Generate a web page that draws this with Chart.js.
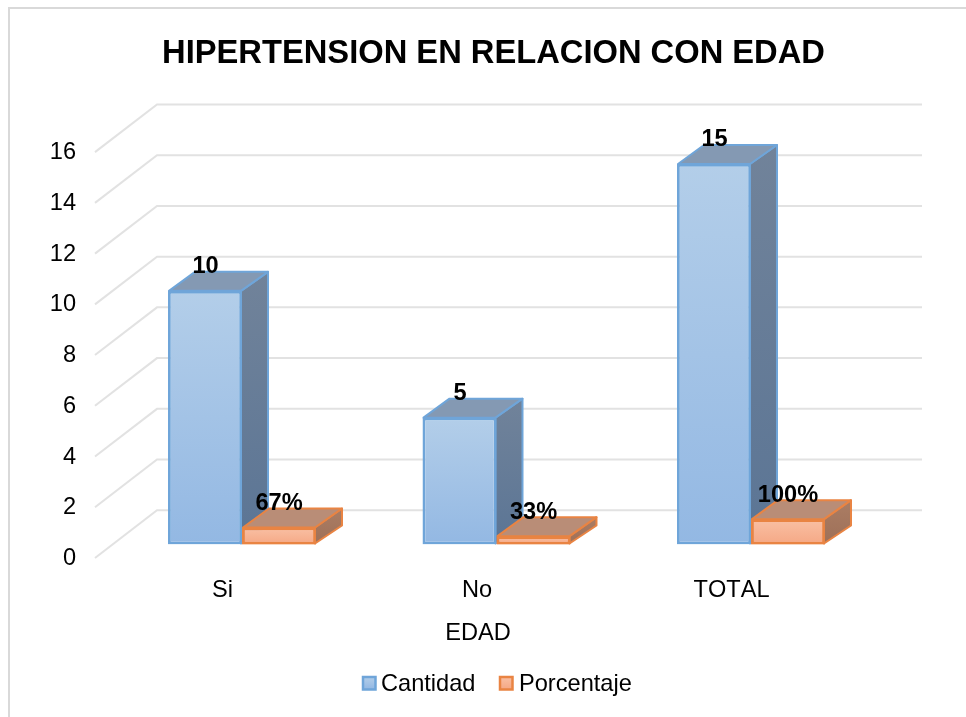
<!DOCTYPE html>
<html lang="es">
<head>
<meta charset="utf-8">
<title>Hipertension en relacion con edad</title>
<style>
html,body{margin:0;padding:0;background:#fff;overflow:hidden}
#wrap{position:absolute;left:0;top:0;width:966px;height:717px}
canvas{display:block;filter:blur(0.4px)}
</style>
<script src="https://cdn.jsdelivr.net/npm/chart.js@4"></script>
</head>
<body>
<div id="wrap"><canvas id="c" width="966" height="717"></canvas></div>
<script>
const chartTitle = 'HIPERTENSION EN RELACION CON EDAD';
const xAxisTitle = 'EDAD';
const categories = ['Si', 'No', 'TOTAL'];
const seriesNames = ['Cantidad', 'Porcentaje'];
const cantidad = [10, 5, 15];
const porcentaje = [0.67, 0.33, 1];
const axisMin = 0;
const axisMax = 16;
const axisStep = 2;

const FONT = '"Liberation Sans", Arial, sans-serif';
const TEXT = '#000000';
const GRID = '#e2e2e2';
const FRAME = '#d9d9d9';
// 3D projection offsets, in pixels
const DEPTH_X = 26, DEPTH_Y = -19;         // depth of a bar
const FLOOR_DOWN = 13.5;                   // axis front edge below the bar plane
const WALL_UP = 34.2;                      // back wall above the bar plane
const GRID_FRONT_X = 95, GRID_BACK_X = 157, GRID_RIGHT_X = 922;
const EDGE = 2.8;

const palette = [
  {top:'#b3cee9', bottom:'#93b8e3', stroke:'#6fa5d9', lid:'#8499b3', sideTop:'#71839a', sideBottom:'#5b7595'},
  {top:'#f9c0a4', bottom:'#f5a885', stroke:'#e98443', lid:'#b98d77', sideTop:'#ab7d64', sideBottom:'#9e7058'}
];

function frontGradient(ctx, p, top, bottom) {
  const g = ctx.createLinearGradient(0, top, 0, bottom);
  g.addColorStop(0, p.top);
  g.addColorStop(1, p.bottom);
  return g;
}

function poly(ctx, pts, fill, stroke) {
  ctx.beginPath();
  pts.forEach((q, i) => i ? ctx.lineTo(q[0], q[1]) : ctx.moveTo(q[0], q[1]));
  ctx.closePath();
  ctx.fillStyle = fill;
  ctx.fill();
  ctx.lineWidth = 2;
  ctx.lineJoin = 'round';
  ctx.strokeStyle = stroke;
  ctx.stroke();
}

function drawFaces(chart, dsIndex) {
  const ctx = chart.ctx, p = palette[dsIndex];
  chart.getDatasetMeta(dsIndex).data.forEach(bar => {
    const half = bar.width / 2, l = bar.x - half, r = bar.x + half, t = bar.y, b = bar.base;
    const side = ctx.createLinearGradient(0, t + DEPTH_Y, 0, b);
    side.addColorStop(0, p.sideTop);
    side.addColorStop(1, p.sideBottom);
    poly(ctx, [[r - 1, b - 1], [r + DEPTH_X, b + DEPTH_Y], [r + DEPTH_X, t + DEPTH_Y], [r - 1, t]], side, p.stroke);
    poly(ctx, [[l + 1, t], [l + DEPTH_X + 1, t + DEPTH_Y], [r + DEPTH_X, t + DEPTH_Y], [r - 1, t]], p.lid, p.stroke);
  });
}

const scene3d = {
  id: 'scene3d',
  beforeDraw(chart) {
    const ctx = chart.ctx;
    ctx.fontKerning = 'none';
    ctx.save();
    ctx.fillStyle = '#fff';
    ctx.fillRect(0, 0, chart.width, chart.height);
    ctx.strokeStyle = FRAME;
    ctx.lineWidth = 2;
    ctx.beginPath();
    ctx.moveTo(9, chart.height);
    ctx.lineTo(9, 8);
    ctx.lineTo(chart.width, 8);
    ctx.stroke();
    ctx.restore();
  },
  beforeDatasetsDraw(chart) {
    const ctx = chart.ctx, y = chart.scales.y;
    ctx.save();
    ctx.strokeStyle = GRID;
    ctx.lineWidth = 2;
    y.ticks.forEach(t => {
      const py = y.getPixelForValue(t.value);
      ctx.beginPath();
      ctx.moveTo(GRID_FRONT_X, py + FLOOR_DOWN);
      ctx.lineTo(GRID_BACK_X, py - WALL_UP);
      ctx.lineTo(GRID_RIGHT_X, py - WALL_UP);
      ctx.stroke();
    });
    drawFaces(chart, 0);
    drawFaces(chart, 1);
    ctx.restore();
  },
  afterDatasetsDraw(chart) {
    const ctx = chart.ctx;
    ctx.save();
    chart.getDatasetMeta(1).data.forEach(bar => bar.draw(ctx));
    // value labels
    ctx.fillStyle = TEXT;
    ctx.font = 'bold 23.6px ' + FONT;
    ctx.textAlign = 'center';
    ctx.textBaseline = 'middle';
    chart.getDatasetMeta(0).data.forEach((bar, i) => ctx.fillText(String(cantidad[i]), bar.x + 0.5, bar.y - 24.5));
    chart.getDatasetMeta(1).data.forEach((bar, i) => ctx.fillText(Math.round(porcentaje[i] * 100) + '%', bar.x, bar.y - 24));
    // category axis title
    ctx.font = '23.6px ' + FONT;
    ctx.fillText(xAxisTitle, 478, 633.5);
    // legend
    ctx.textAlign = 'left';
    const lx = [363, 500], tx = [381, 519];
    seriesNames.forEach((name, i) => {
      const p = palette[i];
      const g = ctx.createLinearGradient(0, 677, 0, 689);
      g.addColorStop(0, p.top);
      g.addColorStop(1, p.bottom);
      ctx.fillStyle = g;
      ctx.strokeStyle = p.stroke;
      ctx.lineWidth = 2.5;
      ctx.fillRect(lx[i], 677, 12.5, 12.5);
      ctx.strokeRect(lx[i], 677, 12.5, 12.5);
      ctx.fillStyle = TEXT;
      ctx.fillText(name, tx[i], 684.5);
    });
    ctx.restore();
  }
};

const makeDataset = (label, data, i) => ({
  label,
  data,
  backgroundColor(c) {
    const y = c.chart.scales.y;
    if (!y || !c.parsed) return palette[i].bottom;
    const top = y.getPixelForValue(c.parsed.y), base = y.getPixelForValue(0);
    return isFinite(top) && isFinite(base) && base > top
      ? frontGradient(c.chart.ctx, palette[i], top, base) : palette[i].bottom;
  },
  borderColor: palette[i].stroke,
  borderWidth: EDGE,
  borderSkipped: false,
  barPercentage: 1,
  categoryPercentage: 0.5815
});

new Chart(document.getElementById('c'), {
  type: 'bar',
  plugins: [scene3d],
  data: {
    labels: categories,
    datasets: [makeDataset(seriesNames[0], cantidad, 0), makeDataset(seriesNames[1], porcentaje, 1)]
  },
  options: {
    responsive: false,
    animation: false,
    events: [],
    layout: {padding: {left: 21, right: 0, top: 0, bottom: 0}},
    plugins: {
      legend: {display: false},
      tooltip: {enabled: false},
      title: {
        display: true,
        text: chartTitle,
        color: TEXT,
        font: {family: FONT, size: 32.7, weight: 'bold', lineHeight: 1.2},
        padding: {top: 34.5, bottom: 64.9}
      }
    },
    scales: {
      x: {
        grid: {display: false, drawTicks: false},
        border: {display: false},
        ticks: {color: TEXT, font: {family: FONT, size: 23.6}, padding: 32, labelOffset: -19.5, maxRotation: 0, autoSkip: false},
        afterFit(s) { s.height = 172.5; }
      },
      y: {
        min: axisMin,
        max: axisMax,
        grid: {display: false, drawTicks: false},
        border: {display: false},
        ticks: {color: TEXT, font: {family: FONT, size: 23.6}, padding: 38.75, stepSize: axisStep, labelOffset: 14},
        afterFit(s) { s.width = 93.75; }
      },
      margin: {
        position: 'right',
        grid: {display: false, drawTicks: false},
        border: {display: false},
        ticks: {display: false},
        afterFit(s) { s.width = 87.75; }
      }
    }
  }
});
</script>
</body>
</html>
